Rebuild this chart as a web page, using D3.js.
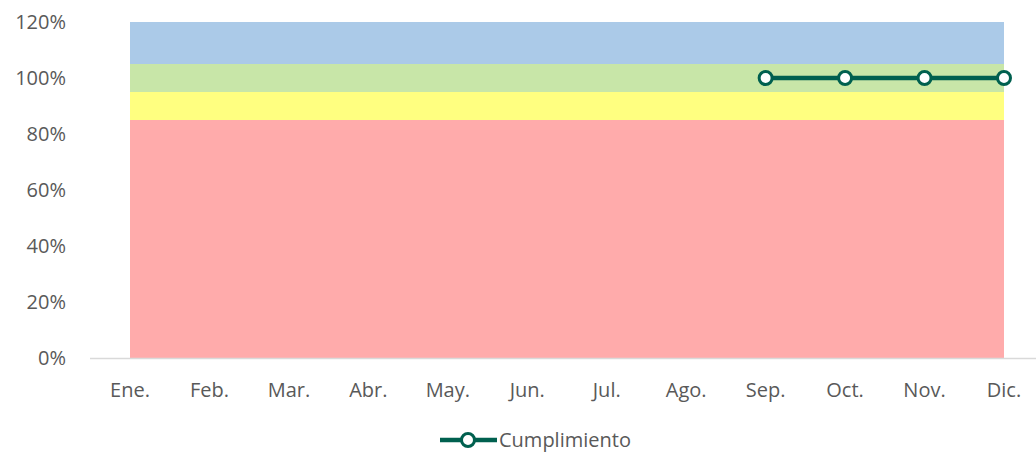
<!DOCTYPE html>
<html>
<head>
<meta charset="utf-8">
<script src="https://cdn.jsdelivr.net/npm/d3@7"></script>
<style>
  html, body { margin: 0; padding: 0; background: #ffffff; }
  svg { display: block; }
  text { font-family: "Open Sans", "Noto Sans", sans-serif; fill: #595959; }
</style>
</head>
<body>
<svg id="chart" width="1036" height="454"></svg>
<script>
// Months on the category axis
const months = ["Ene.", "Feb.", "Mar.", "Abr.", "May.", "Jun.", "Jul.", "Ago.", "Sep.", "Oct.", "Nov.", "Dic."];

// Stacked performance bands (thickness of each band, in fraction of goal)
const bandRed    = [0.85, 0.85, 0.85, 0.85, 0.85, 0.85, 0.85, 0.85, 0.85, 0.85, 0.85, 0.85];
const bandYellow = [0.10, 0.10, 0.10, 0.10, 0.10, 0.10, 0.10, 0.10, 0.10, 0.10, 0.10, 0.10];
const bandGreen  = [0.10, 0.10, 0.10, 0.10, 0.10, 0.10, 0.10, 0.10, 0.10, 0.10, 0.10, 0.10];
const bandBlue   = [0.15, 0.15, 0.15, 0.15, 0.15, 0.15, 0.15, 0.15, 0.15, 0.15, 0.15, 0.15];

// Compliance series (null = no data yet)
const cumplimiento = [null, null, null, null, null, null, null, null, 1.00, 1.00, 1.00, 1.00];

// Y axis ticks
const yTicks = [0, 0.2, 0.4, 0.6, 0.8, 1.0, 1.2];

const bandColors = ["#FFABAB", "#FFFF80", "#C8E6A8", "#ABCAE8"];
const lineColor = "#00604F";

const svg = d3.select("#chart");

const x = d3.scalePoint().domain(months).range([130, 1004]);
const y = d3.scaleLinear().domain([0, 1.2]).range([358, 22]);

// Build stacked table
const table = months.map((m, i) => ({
  month: m, red: bandRed[i], yellow: bandYellow[i], green: bandGreen[i], blue: bandBlue[i]
}));
const stack = d3.stack().keys(["red", "yellow", "green", "blue"]);
const series = stack(table);

const area = d3.area()
  .x(d => x(d.data.month))
  .y0(d => y(d[0]))
  .y1(d => y(d[1]));

svg.append("g").selectAll("path")
  .data(series)
  .join("path")
  .attr("d", area)
  .attr("fill", (d, i) => bandColors[i]);

// Category axis line
svg.append("line")
  .attr("x1", 90).attr("x2", 1036)
  .attr("y1", y(0) + 0.5).attr("y2", y(0) + 0.5)
  .attr("stroke", "#D9D9D9").attr("stroke-width", 1.5);

// Y tick labels
svg.append("g").selectAll("text")
  .data(yTicks)
  .join("text")
  .attr("x", 66)
  .attr("y", d => y(d))
  .attr("dy", "0.35em")
  .attr("text-anchor", "end")
  .attr("font-size", 20)
  .text(d => d3.format(".0%")(d));

// Month labels
svg.append("g").selectAll("text")
  .data(months)
  .join("text")
  .attr("x", d => x(d))
  .attr("y", 390)
  .attr("dy", "0.35em")
  .attr("text-anchor", "middle")
  .attr("font-size", 20)
  .text(d => d);

// Compliance line with markers
const pts = months.map((m, i) => ({ month: m, v: cumplimiento[i] }));
const line = d3.line()
  .defined(d => d.v !== null)
  .x(d => x(d.month))
  .y(d => y(d.v));

svg.append("path")
  .datum(pts)
  .attr("d", line)
  .attr("fill", "none")
  .attr("stroke", lineColor)
  .attr("stroke-width", 4.5);

svg.append("g").selectAll("circle")
  .data(pts.filter(d => d.v !== null))
  .join("circle")
  .attr("cx", d => x(d.month))
  .attr("cy", d => y(d.v))
  .attr("r", 6.5)
  .attr("fill", "#ffffff")
  .attr("stroke", lineColor)
  .attr("stroke-width", 3);

// Legend
const lg = svg.append("g");
lg.append("line")
  .attr("x1", 440).attr("x2", 497)
  .attr("y1", 440).attr("y2", 440)
  .attr("stroke", lineColor).attr("stroke-width", 4.5);
lg.append("circle")
  .attr("cx", 468).attr("cy", 440).attr("r", 6.5)
  .attr("fill", "#ffffff").attr("stroke", lineColor).attr("stroke-width", 3);
lg.append("text")
  .attr("x", 499).attr("y", 440).attr("dy", "0.35em")
  .attr("font-size", 20)
  .text("Cumplimiento");
</script>
</body>
</html>
